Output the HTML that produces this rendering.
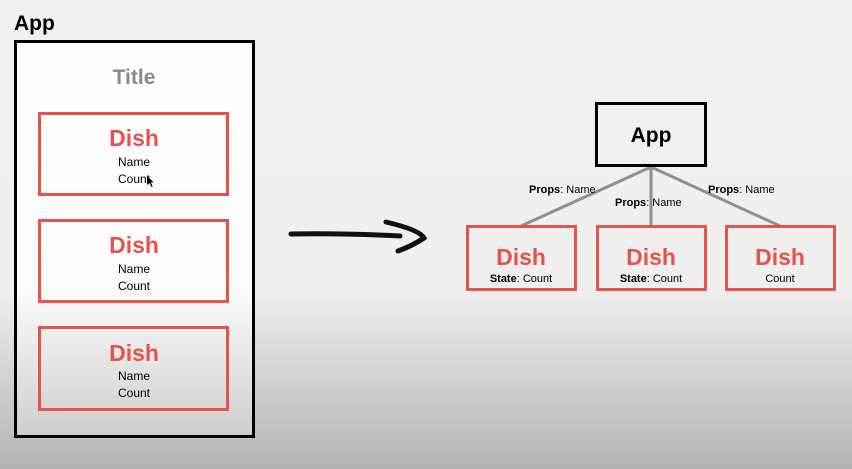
<!DOCTYPE html>
<html><head><meta charset="utf-8"><style>
html,body{margin:0;padding:0;width:852px;height:469px;overflow:hidden}
svg{display:block;font-family:"Liberation Sans",Arial,sans-serif}
</style></head><body>
<svg width="852" height="469" viewBox="0 0 852 469" xmlns="http://www.w3.org/2000/svg">
<defs>
<linearGradient id="bg" x1="0" y1="0" x2="0" y2="1">
<stop offset="0" stop-color="#f0f0f0"/>
<stop offset="0.62" stop-color="#efefef"/>
<stop offset="1" stop-color="#b3b3b3"/>
</linearGradient>
<linearGradient id="inner" x1="0" y1="0" x2="0" y2="469" gradientUnits="userSpaceOnUse">
<stop offset="0" stop-color="#ffffff"/>
<stop offset="0.62" stop-color="#fbfbfb"/>
<stop offset="1" stop-color="#c4c4c4"/>
</linearGradient>
</defs>
<rect width="852" height="469" fill="url(#bg)"/>
<text x="14" y="30" font-size="21" font-weight="bold" fill="#000">App</text>
<rect x="15.5" y="41.5" width="238" height="395" fill="url(#inner)" stroke="#000" stroke-width="3"/>
<text x="134" y="84" font-size="21" font-weight="bold" fill="#858a90" text-anchor="middle">Title</text>
<g fill="none" stroke="#e5534b" stroke-width="3">
<rect x="39.5" y="113.5" width="188" height="81"/>
<rect x="39.5" y="220.5" width="188" height="81"/>
<rect x="39.5" y="327.5" width="188" height="82"/>
</g>
<g text-anchor="middle">
<text x="134" y="146" font-size="23" font-weight="bold" fill="#e5534b">Dish</text>
<text x="134" y="166" font-size="12">Name</text>
<text x="134" y="183" font-size="12">Count</text>
<text x="134" y="253" font-size="23" font-weight="bold" fill="#e5534b">Dish</text>
<text x="134" y="273" font-size="12">Name</text>
<text x="134" y="290" font-size="12">Count</text>
<text x="134" y="361" font-size="23" font-weight="bold" fill="#e5534b">Dish</text>
<text x="134" y="380" font-size="12">Name</text>
<text x="134" y="397" font-size="12">Count</text>
</g>
<path d="M147 176 l0 9 l2.5-2 l2 4 l1.2-0.6 l-2-4 l3 0 z" fill="#000"/>
<g stroke="#111" stroke-linecap="round" fill="none">
<path d="M291 234 Q340 233 400 236" stroke-width="5"/>
<path d="M386 222 Q420 230 424 238 Q412 246 398 251" stroke-width="5"/>
</g>
<g stroke="#8f8f8f" stroke-width="3">
<line x1="651" y1="167" x2="521" y2="226"/>
<line x1="651" y1="167" x2="651" y2="226"/>
<line x1="651" y1="167" x2="780" y2="226"/>
</g>
<rect x="596.5" y="103.5" width="109" height="62" fill="none" stroke="#000" stroke-width="3"/>
<text x="651" y="142" font-size="21" font-weight="bold" text-anchor="middle">App</text>
<g font-size="11">
<text x="529" y="193"><tspan font-weight="bold">Props</tspan>: Name</text>
<text x="615" y="206"><tspan font-weight="bold">Props</tspan>: Name</text>
<text x="708" y="193"><tspan font-weight="bold">Props</tspan>: Name</text>
</g>
<g fill="none" stroke="#e5534b" stroke-width="3">
<rect x="467.5" y="226.5" width="108" height="63"/>
<rect x="597.5" y="226.5" width="108" height="63"/>
<rect x="726.5" y="226.5" width="108" height="63"/>
</g>
<g text-anchor="middle">
<text x="521" y="265" font-size="23" font-weight="bold" fill="#e5534b">Dish</text>
<text x="521" y="282" font-size="11"><tspan font-weight="bold">State</tspan>: Count</text>
<text x="651" y="265" font-size="23" font-weight="bold" fill="#e5534b">Dish</text>
<text x="651" y="282" font-size="11"><tspan font-weight="bold">State</tspan>: Count</text>
<text x="780" y="265" font-size="23" font-weight="bold" fill="#e5534b">Dish</text>
<text x="780" y="282" font-size="11">Count</text>
</g>
</svg>
</body></html>
